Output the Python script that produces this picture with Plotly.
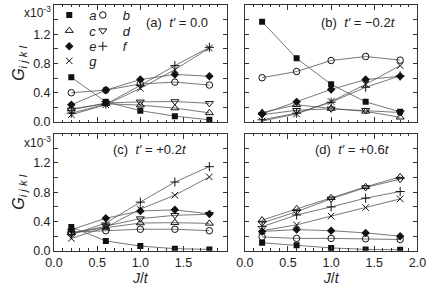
import plotly.graph_objects as go

# ---------------- data (units of 1e-3) ----------------
J = [0.2, 0.6, 1.0, 1.4, 1.8]
names = ["a", "b", "c", "d", "e", "f", "g"]

# (a) t' = 0.0
pa_a = [0.61, 0.275, 0.155, 0.08, 0.03]
pa_b = [0.40, 0.435, 0.52, 0.545, 0.505]
pa_c = [0.18, 0.25, 0.23, 0.19, 0.125]
pa_d = [0.165, 0.26, 0.275, 0.28, 0.255]
pa_e = [0.235, 0.435, 0.58, 0.65, 0.625]
pa_f = [0.12, 0.245, 0.50, 0.77, 1.02]
pa_g = [0.10, 0.235, 0.46, 0.715, 1.01]

# (b) t' = -0.2t
pb_a = [1.37, 0.87, 0.515, 0.275, 0.14]
pb_b = [0.605, 0.69, 0.84, 0.895, 0.845]
pb_c = [0.13, 0.235, 0.185, 0.145, 0.065]
pb_d = [0.10, 0.16, 0.18, 0.16, 0.13]
pb_e = [0.11, 0.275, 0.445, 0.58, 0.625]
pb_f = [0.03, 0.12, 0.27, 0.475, 0.63]
pb_g = [0.015, 0.11, 0.28, 0.515, 0.77]

# (c) t' = +0.2t
pc_a = [0.325, 0.135, 0.065, 0.03, 0.02]
pc_b = [0.255, 0.275, 0.295, 0.295, 0.275]
pc_c = [0.25, 0.32, 0.38, 0.385, 0.375]
pc_d = [0.235, 0.34, 0.44, 0.485, 0.50]
pc_e = [0.29, 0.445, 0.545, 0.56, 0.505]
pc_f = [0.22, 0.38, 0.665, 0.94, 1.15]
pc_g = [0.17, 0.32, 0.57, 0.76, 1.01]

# (d) t' = +0.6t
pd_a = [0.11, 0.075, 0.04, 0.02, 0.015]
pd_b = [0.19, 0.17, 0.17, 0.165, 0.155]
pd_c = [0.42, 0.575, 0.725, 0.875, 1.01]
pd_d = [0.38, 0.535, 0.71, 0.865, 0.98]
pd_e = [0.265, 0.29, 0.275, 0.245, 0.20]
pd_f = [0.33, 0.49, 0.60, 0.72, 0.81]
pd_g = [0.275, 0.355, 0.475, 0.59, 0.71]

panel_labels = ["(a)  <i>t\u2032</i> = 0.0", "(b)  <i>t\u2032</i> = \u22120.2<i>t</i>",
                "(c)  <i>t\u2032</i> = +0.2<i>t</i>", "(d)  <i>t\u2032</i> = +0.6<i>t</i>"]
y_tickvals = [0.0, 0.4, 0.8, 1.2]
y_ticklabels = ["0.0", "0.4", "0.8", "1.2"]
x_tickvals = [0.0, 0.5, 1.0, 1.5, 2.0]
x_ticklabels_c = ["0.0", "0.5", "1.0", "1.5", ""]
x_ticklabels_d = ["0.0", "0.5", "1.0", "1.5", "2.0"]

panels = [
    [pa_a, pa_b, pa_c, pa_d, pa_e, pa_f, pa_g],
    [pb_a, pb_b, pb_c, pb_d, pb_e, pb_f, pb_g],
    [pc_a, pc_b, pc_c, pc_d, pc_e, pc_f, pc_g],
    [pd_a, pd_b, pd_c, pd_d, pd_e, pd_f, pd_g],
]

# ---------------- styles ----------------
W, H = 436, 292
FONT = "Liberation Sans, Arial, Helvetica, sans-serif"
BLACK = "#111111"
LINEC = "#555555"
TXT = "#222222"

ol = dict(width=1, color=BLACK)
marker_styles = {
    "a": dict(symbol="square", size=6, color=BLACK),
    "b": dict(symbol="circle-open", size=6.5, color=BLACK, line=ol),
    "c": dict(symbol="triangle-up-open", size=7, color=BLACK, line=ol),
    "d": dict(symbol="triangle-down-open", size=7, color=BLACK, line=ol),
    "e": dict(symbol="diamond", size=6.5, color=BLACK),
    "f": dict(symbol="cross-thin-open", size=6.5, color=BLACK, line=ol),
    "g": dict(symbol="x-thin-open", size=6.5, color=BLACK, line=ol),
}
# each legend entry is its own single-item legend (grid of 2 columns)
legend_ids = ["legend", "legend2", "legend3", "legend4", "legend5", "legend6", "legend7"]
legend_marker_px = [(62, 15), (97, 15), (62, 31), (97, 31), (62, 47), (97, 47), (62, 62)]

def px_x(p):
    return p / W

def px_y(p):
    return 1 - p / H

dom_x = [[px_x(47), px_x(227)], [px_x(246), px_x(426)]]
dom_y = [[px_y(125), px_y(5)], [px_y(257), px_y(137)]]

fig = go.Figure()
for pi, series in enumerate(panels):
    sfx = "" if pi == 0 else str(pi + 1)
    for name, vals in zip(names, series):
        fig.add_trace(go.Scatter(
            x=J, y=vals, mode="lines", line=dict(color=LINEC, width=0.8),
            showlegend=False, hoverinfo="skip", xaxis="x" + sfx, yaxis="y" + sfx))
    for k, (name, vals) in enumerate(zip(names, series)):
        fig.add_trace(go.Scatter(
            x=J, y=vals, mode="markers", marker=marker_styles[name],
            name="<i>%s</i>" % name, showlegend=(pi == 0),
            legend=legend_ids[k], xaxis="x" + sfx, yaxis="y" + sfx))

axis_common = dict(
    showline=True, linecolor="#333333", linewidth=1, mirror="ticks",
    ticks="inside", tickcolor="#333333", showgrid=False, zeroline=False,
    tickfont=dict(family=FONT, size=12.5, color=TXT),
)

layout = dict(
    width=W, height=H, margin=dict(l=0, r=0, t=0, b=0),
    paper_bgcolor="white", plot_bgcolor="white",
    font=dict(family=FONT, size=12.5, color=TXT),
)

for pi in range(4):
    row, col = pi // 2, pi % 2
    sfx = "" if pi == 0 else str(pi + 1)
    xa = dict(axis_common, domain=dom_x[col], range=[0, 2.0], anchor="y" + sfx,
              tickmode="array", tickvals=x_tickvals, ticklen=5,
              minor=dict(dtick=0.1, tick0=0, ticks="inside", ticklen=2.5, tickcolor="#333333"))
    ya = dict(axis_common, domain=dom_y[row], range=[0, 1.6], anchor="x" + sfx,
              tickmode="array", tickvals=y_tickvals, ticktext=y_ticklabels, ticklen=4,
              minor=dict(dtick=0.2, tick0=0, ticks="inside", ticklen=4, tickcolor="#333333"))
    if row == 0:
        xa["showticklabels"] = False
    else:
        xa["ticktext"] = x_ticklabels_c if col == 0 else x_ticklabels_d
        xa["title"] = dict(text="<i>J</i>/<i>t</i>", standoff=0,
                           font=dict(family=FONT, size=14, color=TXT))
    if col == 1:
        ya["showticklabels"] = False
    else:
        ya["title"] = dict(text="<i>G</i><sub><i>i j k l</i></sub>", standoff=4,
                           font=dict(family=FONT, size=16, color=TXT))
    layout["xaxis" + sfx] = xa
    layout["yaxis" + sfx] = ya

annotations = []
# exponent labels
for yy in (12, 145):
    annotations.append(dict(text="x10<sup>-3</sup>", xref="paper", yref="paper",
                            x=px_x(14), y=px_y(yy), xanchor="left", yanchor="middle",
                            showarrow=False, font=dict(family=FONT, size=12, color=TXT)))
# panel labels
label_pos = [(210, 23), (406, 23), (188, 153), (400, 153)]
for (xx, yy), txt in zip(label_pos, panel_labels):
    annotations.append(dict(text=txt, xref="paper", yref="paper", x=px_x(xx), y=px_y(yy),
                            xanchor="right", yanchor="middle", showarrow=False,
                            font=dict(family=FONT, size=13, color=TXT)))
layout["annotations"] = annotations

LEG_FONT = 13
for lid, (mx, my) in zip(legend_ids, legend_marker_px):
    top = my - (LEG_FONT * 1.3 + 3) / 2 - 5
    layout[lid] = dict(x=px_x(mx - 20), y=px_y(top), xanchor="left", yanchor="top",
                       bgcolor="rgba(0,0,0,0)", borderwidth=0,
                       font=dict(family=FONT, size=LEG_FONT, color=TXT))

fig.update_layout(**layout)
fig.write_html("out.html", config={"displayModeBar": False},
               post_script="document.body.style.margin='0';document.body.style.overflow='hidden';")
